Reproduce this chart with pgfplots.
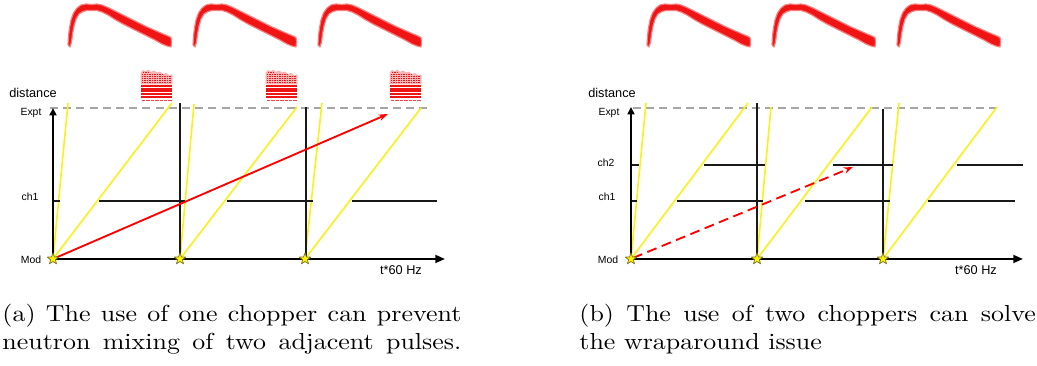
\documentclass[border=0pt]{standalone}
\usepackage{fontspec}
\newfontfamily\arial{Liberation Sans}
\usepackage{pgfplots}
\usepackage{pgfplotstable}
\pgfplotsset{compat=1.18}
\usetikzlibrary{arrows.meta}

\definecolor{neut}{RGB}{250,240,30}
\definecolor{pulsered}{RGB}{240,20,20}
\definecolor{chop}{RGB}{25,25,25}

% filled five-pointed star used for the moderator pulses
\pgfdeclareplotmark{fstar}{%
  \pgfpathmoveto{\pgfpointpolar{90}{\pgfplotmarksize}}%
  \pgfpathlineto{\pgfpointpolar{126}{0.42\pgfplotmarksize}}%
  \pgfpathlineto{\pgfpointpolar{162}{\pgfplotmarksize}}%
  \pgfpathlineto{\pgfpointpolar{198}{0.42\pgfplotmarksize}}%
  \pgfpathlineto{\pgfpointpolar{234}{\pgfplotmarksize}}%
  \pgfpathlineto{\pgfpointpolar{270}{0.42\pgfplotmarksize}}%
  \pgfpathlineto{\pgfpointpolar{306}{\pgfplotmarksize}}%
  \pgfpathlineto{\pgfpointpolar{342}{0.42\pgfplotmarksize}}%
  \pgfpathlineto{\pgfpointpolar{18}{\pgfplotmarksize}}%
  \pgfpathlineto{\pgfpointpolar{54}{0.42\pgfplotmarksize}}%
  \pgfpathclose
  \pgfusepathqfillstroke}

% outline of one moderator pulse (intensity vs. time), drawing units
\pgfplotstableread{
x y
68 45
68.5 36
69.5 28
71 20
73.5 13
77 8
81 5
86 4
92 4.5
97 4
102 5
108 7.5
115 11
122 14.5
130 18.5
138 22.5
146 26.5
154 30
162 33.5
168 36
171 37.5
171.5 42
171 47
167 46
162 44
155 40
147 36
139 32
131 28
123 24
115 19.5
108 15
102 12
97 10.5
92 10.5
87 10.5
83 11.5
79 14
76 19
74 26
72.5 34
71.5 42
70 47
68 45
}\pulse

% noisy top of the detected time-of-flight spectrum
\pgfplotstableread{
x y
141 84
141 73
143 70.5
146 72
148 70
151 72.5
154 71
157 73
160 72
163 74.5
166 73.5
169 75.5
172 75
172 84
141 84
}\noisy

% grainy rows inside the noisy part
\pgfplotstableread{
x y
143 72.5
150 72.5
nan nan
141.5 74.5
162 74.5
nan nan
141.5 76.5
171.5 76.5
nan nan
141.5 78.5
171.5 78.5
nan nan
141.5 80.5
171.5 80.5
nan nan
141.5 82.5
171.5 82.5
}\grain

% separated wavelength bands of the detected spectrum
\pgfplotstableread{
x y
141 86
172 86
nan nan
141 88.7
172 88.7
nan nan
141 91.3
172 91.3
nan nan
141 94
172 94
nan nan
141 97
172 97
}\bands

\newcommand\caplinea[1]{\scalebox{1.12}[1]{\makebox[177pt][s]{#1}}}
\newcommand\caplineb[1]{\scalebox{1.12}[1]{#1}}

\begin{document}
\begin{tikzpicture}
\begin{axis}[
  hide axis, scale only axis,
  width=448pt, height=158.1pt,
  xmin=0, xmax=1037, ymin=0, ymax=366, y dir=reverse,
  clip=false, unbounded coords=jump,
  every axis plot/.append style={line join=round},
]
\addplot[draw=none] coordinates {(0,0) (1037,366)};

% ---------------- moderator pulse shapes ----------------
\pgfplotsinvokeforeach{0,125,250,579,704,829}{
  \addplot[fill=pulsered, draw=pulsered!55, line width=0.5pt]
    table[x expr=\thisrow{x}+#1, y=y] {\pulse};
}
% ---------------- detected spectra (one chopper) ----------------
\pgfplotsinvokeforeach{0,125,249}{
  \addplot[fill=pulsered!30, draw=pulsered!35, line width=0.3pt]
    table[x expr=\thisrow{x}+#1, y=y] {\noisy};
  \addplot[pulsered, line width=0.5pt, dash pattern=on 0.5pt off 0.45pt on 0.9pt off 0.35pt]
    table[x expr=\thisrow{x}+#1, y=y] {\grain};
  \addplot[pulsered, line width=0.75pt]
    table[x expr=\thisrow{x}+#1, y=y] {\bands};
  \addplot[pulsered!80, line width=0.45pt, dash pattern=on 1.5pt off 0.4pt]
    coordinates {(142+#1,100.5) (172+#1,100.5)};
}

% ================= panel (a) =================
\addplot[gray!70, line width=0.55pt, dash pattern=on 3.5pt off 2.2pt]
  coordinates {(50,108) (427,108)};
% neutron trajectories
\addplot[neut, line width=0.7pt] coordinates {(53,259) (68,103)};
\addplot[neut, line width=0.7pt] coordinates {(53,259) (172,103)};
\addplot[neut, line width=0.7pt] coordinates {(180,259) (194,104)};
\addplot[neut, line width=0.7pt] coordinates {(180,259) (297,107)};
\addplot[neut, line width=0.7pt] coordinates {(305,259) (322,103)};
\addplot[neut, line width=0.7pt] coordinates {(305,259) (421,108)};
% pulse markers (vertical)
\addplot[chop, line width=0.9pt] coordinates {(180,103) (180,259)};
\addplot[chop, line width=0.9pt] coordinates {(306,107) (306,259)};
% chopper ch1 closed intervals
\addplot[chop, line width=0.9pt] coordinates
  {(53,201) (60,201) (60,nan) (99,201) (185,201) (185,nan)
   (227,201) (313,201) (313,nan) (352,201) (437,201)};
% slow neutron
\addplot[red, line width=0.8pt, -{Stealth[length=4pt,width=2.8pt]}]
  coordinates {(53,259) (388,114)};
% axes
\addplot[black, line width=0.9pt, -{Triangle[length=3.2pt,width=3pt]}]
  coordinates {(53,259) (53,108)};
\addplot[black, line width=0.9pt, -{Triangle[length=4.2pt,width=3.4pt]}]
  coordinates {(53,259) (445,259)};
\addplot[only marks, mark=fstar, mark size=2.6pt,
  mark options={fill=yellow, draw=olive!80!black, line width=0.3pt}]
  coordinates {(53,259) (180,259) (305,259)};

\node[font=\arial\fontsize{5.5}{6}\selectfont] at (33,93) {distance};
\node[font=\arial\fontsize{4.5}{5}\selectfont] at (31,113) {Expt};
\node[font=\arial\fontsize{4.5}{5}\selectfont] at (30,197) {ch1};
\node[font=\arial\fontsize{4.5}{5}\selectfont] at (31,260) {Mod};
\node[font=\arial\fontsize{5.5}{6}\selectfont] at (401,270) {t*60 Hz};

% ================= panel (b) =================
\addplot[gray!70, line width=0.55pt, dash pattern=on 3.5pt off 2.2pt]
  coordinates {(633,108) (1000,108)};
\addplot[neut, line width=0.7pt] coordinates {(631,259) (646,103)};
\addplot[neut, line width=0.7pt] coordinates {(631,259) (748,103)};
\addplot[neut, line width=0.7pt] coordinates {(757,259) (771,107)};
\addplot[neut, line width=0.7pt] coordinates {(757,259) (872,107)};
\addplot[neut, line width=0.7pt] coordinates {(883,259) (899,103)};
\addplot[neut, line width=0.7pt] coordinates {(883,259) (997,107)};
\addplot[chop, line width=0.9pt] coordinates {(757,103) (757,259)};
\addplot[chop, line width=0.9pt] coordinates {(883,109) (883,259)};
% chopper ch2
\addplot[chop, line width=0.9pt] coordinates
  {(631,165) (639,165) (639,nan) (704,165) (765,165) (765,nan)
   (833,165) (893,165) (893,nan) (957,165) (1023,165)};
% chopper ch1
\addplot[chop, line width=0.9pt] coordinates
  {(631,201) (637,201) (637,nan) (677,201) (763,201) (763,nan)
   (805,201) (890,201) (890,nan) (928,201) (1015,201)};
\addplot[red, line width=0.8pt, dash pattern=on 4.3pt off 2.4pt,
  -{Stealth[length=4pt,width=2.8pt]}]
  coordinates {(633,258) (853,167)};
\addplot[black, line width=0.9pt, -{Triangle[length=3.2pt,width=3pt]}]
  coordinates {(631,259) (631,107)};
\addplot[black, line width=0.9pt, -{Triangle[length=4.2pt,width=3.4pt]}]
  coordinates {(631,259) (1023,259)};
\addplot[only marks, mark=fstar, mark size=2.6pt,
  mark options={fill=yellow, draw=olive!80!black, line width=0.3pt}]
  coordinates {(631,259) (757,259) (883,259)};

\node[font=\arial\fontsize{5.5}{6}\selectfont] at (612,93) {distance};
\node[font=\arial\fontsize{4.5}{5}\selectfont] at (609,113) {Expt};
\node[font=\arial\fontsize{4.5}{5}\selectfont] at (606,163) {ch2};
\node[font=\arial\fontsize{4.5}{5}\selectfont] at (607,197) {ch1};
\node[font=\arial\fontsize{4.5}{5}\selectfont] at (608,260) {Mod};
\node[font=\arial\fontsize{5.5}{6}\selectfont] at (976,270) {t*60 Hz};

% ================= captions =================
\node[anchor=base west, inner sep=0pt, font=\fontsize{10}{12}\selectfont]
  at (2,322) {\caplinea{(a) The use of one chopper can prevent}};
\node[anchor=base west, inner sep=0pt, font=\fontsize{10}{12}\selectfont]
  at (2,350) {\caplinea{neutron mixing of two adjacent pulses.}};
\node[anchor=base west, inner sep=0pt, font=\fontsize{10}{12}\selectfont]
  at (579,322) {\scalebox{1.12}[1]{\makebox[176pt][s]{(b) The use of two choppers can solve}}};
\node[anchor=base west, inner sep=0pt, font=\fontsize{10}{12}\selectfont]
  at (579,350) {\caplineb{the wraparound issue}};
\end{axis}
\end{tikzpicture}
\end{document}
